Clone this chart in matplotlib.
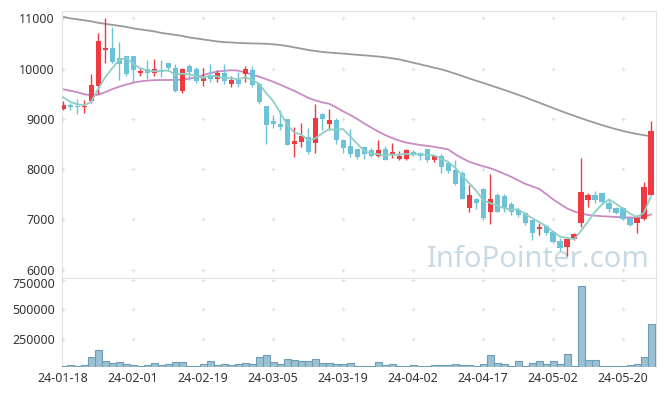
import numpy as np
import pandas as pd
import matplotlib
matplotlib.use("Agg")
import matplotlib.pyplot as plt
import matplotlib.transforms as mtransforms

# daily prices, 24-01-18 .. 24-05-24 (85 trading days)
opens = [9190, 9270, 9255, 9235, 9360, 9660, 10370, 10410, 10217, 10250,
         10250, 9910, 9990, 9910, 9965, 10105, 10005, 9560, 10060, 9990,
         9760, 9870, 9790, 9920, 9700, 9770, 9890, 9970, 9700, 9260,
         8960, 8900, 9000, 8500, 8550, 8635, 8530, 9100, 8895, 8980,
         8580, 8460, 8395, 8435, 8375, 8270, 8395, 8280, 8200, 8200,
         8335, 8316, 8400, 8190, 8263, 8117, 7984, 7919, 7223, 7402,
         7600, 7143, 7487, 7467, 7308, 7190, 7123, 6990, 6806, 6871,
         6745, 6579, 6450, 6612, 6937, 7388, 7487, 7533, 7334, 7223,
         7223, 7024, 6925, 7004, 7495]
highs = [9350, 9320, 9390, 9370, 9890, 10700, 11000, 10820, 10535, 10250,
         10250, 10010, 10180, 10200, 10180, 10110, 10100, 10010, 10090, 10040,
         10010, 10090, 9970, 10085, 9860, 9940, 10050, 10050, 9720, 9260,
         9080, 9180, 9000, 8830, 8910, 8810, 9290, 9120, 9190, 9010,
         8600, 8790, 8400, 8450, 8420, 8580, 8470, 8530, 8360, 8400,
         8380, 8336, 8400, 8263, 8300, 8170, 8180, 7960, 7686, 7420,
         7620, 7899, 7520, 7500, 7354, 7220, 7150, 6990, 6937, 6900,
         6760, 6627, 6612, 6740, 8229, 7521, 7567, 7533, 7388, 7250,
         7240, 7030, 7090, 7752, 8958]
lows = [9180, 9180, 9100, 9120, 9320, 9500, 10120, 10120, 9773, 9850,
        9720, 9850, 9790, 9850, 9840, 9960, 9540, 9520, 9770, 9710,
        9650, 9730, 9740, 9690, 9640, 9640, 9740, 9640, 9290, 8510,
        8810, 8770, 8480, 8250, 8440, 8300, 8320, 8780, 8780, 8500,
        8320, 8250, 8200, 8200, 8250, 8250, 8180, 8220, 8180, 8190,
        8260, 8183, 8150, 8150, 7930, 7920, 7680, 7400, 7155, 7210,
        7000, 6905, 7140, 7155, 7090, 7040, 6900, 6593, 6692, 6700,
        6540, 6374, 6270, 6600, 6857, 7255, 7334, 7300, 7155, 7100,
        6990, 6880, 6738, 6990, 7487]
closes = [9270, 9240, 9240, 9255, 9670, 10550, 10410, 10140, 10086, 9890,
          9970, 9960, 9910, 10000, 9940, 10005, 9560, 9990, 9940, 9760,
          9820, 9790, 9910, 9760, 9770, 9700, 9990, 9675, 9340, 8880,
          8900, 8845, 8480, 8560, 8650, 8350, 9010, 8990, 8980, 8580,
          8430, 8300, 8250, 8300, 8270, 8375, 8185, 8335, 8260, 8380,
          8280, 8269, 8185, 8263, 8050, 7970, 7700, 7402, 7487, 7322,
          7024, 7402, 7155, 7223, 7155, 7090, 6937, 6738, 6846, 6725,
          6559, 6428, 6610, 6715, 7553, 7487, 7388, 7354, 7209, 7123,
          7004, 6891, 7024, 7640, 8760]
volumes = [21000, 30000, 21000, 30000, 95000, 157000, 64000, 47000, 52000, 38000,
           30000, 21000, 30000, 47000, 30000, 38000, 52000, 52000, 21000, 21000,
           38000, 64000, 30000, 38000, 30000, 38000, 47000, 38000, 95000, 114000,
           52000, 38000, 78000, 69000, 61000, 61000, 78000, 47000, 47000, 38000,
           38000, 47000, 21000, 25000, 25000, 52000, 30000, 38000, 21000, 21000,
           30000, 21000, 21000, 30000, 30000, 30000, 38000, 30000, 30000, 21000,
           38000, 114000, 47000, 38000, 25000, 61000, 25000, 47000, 61000, 38000,
           61000, 38000, 123000, 25000, 699000, 69000, 69000, 25000, 25000, 21000,
           21000, 30000, 38000, 95000, 377000]
# closes of the 4 days before the first candle (needed for the 5-day average)
prev_closes = [9680, 9500, 9325, 9375]

ma20 = [9590, 9560, 9530, 9490, 9470, 9480, 9530, 9590, 9640, 9680,
        9720, 9745, 9760, 9770, 9773, 9773, 9775, 9780, 9800, 9830,
        9870, 9910, 9940, 9955, 9968, 9960, 9925, 9880, 9840, 9790,
        9740, 9680, 9620, 9560, 9490, 9420, 9370, 9330, 9300, 9230,
        9150, 9080, 9000, 8910, 8830, 8750, 8680, 8620, 8570, 8530,
        8505, 8481, 8465, 8445, 8420, 8395, 8300, 8220, 8150, 8100,
        8060, 8020, 7970, 7910, 7850, 7780, 7710, 7660, 7610, 7510,
        7400, 7310, 7220, 7160, 7120, 7090, 7075, 7065, 7058, 7050,
        7045, 7040, 7035, 7050, 7100]
ma60 = [11030, 11000, 10980, 10960, 10940, 10910, 10890, 10870, 10850, 10830,
        10800, 10780, 10760, 10740, 10710, 10690, 10670, 10650, 10620, 10600,
        10580, 10560, 10540, 10525, 10520, 10510, 10505, 10500, 10497, 10493,
        10483, 10469, 10449, 10423, 10398, 10370, 10350, 10332, 10318, 10308,
        10298, 10286, 10274, 10264, 10252, 10240, 10225, 10205, 10183, 10151,
        10117, 10086, 10052, 10018, 9986, 9946, 9901, 9853, 9805, 9761,
        9716, 9670, 9624, 9577, 9529, 9479, 9430, 9376, 9324, 9270,
        9217, 9163, 9111, 9062, 9014, 8966, 8921, 8877, 8835, 8795,
        8760, 8728, 8700, 8676, 8656]

tick_pos = [0, 10, 20, 30, 40, 50, 60, 70, 80]
tick_labels = ["24-01-18", "24-02-01", "24-02-19", "24-03-05", "24-03-19",
               "24-04-02", "24-04-17", "24-05-02", "24-05-20"]

plt.rcParams['font.family'] = ['Noto Sans', 'DejaVu Sans']

up_color = "#ee3a40"
down_color = "#6cc3d9"
grid_color = "#e0e0e0"
spine_color = "#e3e3e3"

o = np.array(opens)
c = np.array(closes)
h = np.array(highs)
l = np.array(lows)
x = np.arange(len(c))
up = c >= o
colors = np.where(up, up_color, down_color)
ma5 = pd.Series(prev_closes + closes).rolling(5).mean().to_numpy()[4:]

fig = plt.figure(figsize=(6.65, 3.96), dpi=100)
ax = fig.add_axes([0.0928, 0.298, 0.8932, 0.675])
axv = fig.add_axes([0.0928, 0.074, 0.8932, 0.224], sharex=ax)

# price pane
ax.vlines(x, l, h, colors=colors, linewidth=1, zorder=3)
body_bottom = np.minimum(o, c)
body_height = np.maximum(np.abs(c - o), 15)
ax.bar(x, body_height, bottom=body_bottom, width=0.72, color=colors, zorder=4)
ax.plot(x, ma60, color="#9a9a9a", lw=1.3, zorder=2)
ax.plot(x, ma20, color="#c98ac4", lw=1.3, zorder=2)
ax.plot(x, ma5, color="#8ecfc6", lw=1.3, zorder=5)
# watermark, placed in pixels from the figure's bottom-left corner
ax.text(538, 396 - 267, "InfoPointer.com", transform=None, fontsize=21,
        color="#c8dae5", ha="center", va="baseline", zorder=1)

ax.set_xlim(-0.2, 84.67)
ax.set_ylim(5837, 11151)
price_ticks = [6000, 7000, 8000, 9000, 10000, 11000]
ax.set_yticks(price_ticks)

# volume pane
axv.bar(x, volumes, width=1.0, color="#9bc0d1", edgecolor="#6f9db4",
        linewidth=0.8, zorder=3)
axv.set_ylim(15000, 767000)
vol_ticks = [250000, 500000, 750000]
axv.set_yticks(vol_ticks)
axv.set_yticklabels([str(v) for v in vol_ticks])
axv.set_xticks(tick_pos)
axv.set_xticklabels(tick_labels)

# "+" grid marks at tick crossings
for a, yt in ((ax, price_ticks), (axv, vol_ticks)):
    gx, gy = np.meshgrid(tick_pos, yt)
    a.scatter(gx.ravel(), gy.ravel(), marker="+", s=10, color=grid_color,
              linewidths=0.8, zorder=0, clip_on=False)
    for side in ("left", "right", "top", "bottom"):
        a.spines[side].set_color(spine_color)
    a.tick_params(length=0, labelsize=9, colors="#333333", pad=5)
ax.tick_params(labelbottom=False)
axv.spines["bottom"].set_visible(False)
axv.tick_params(axis="x", pad=4)

# nudge the top volume label down a little so it clears "6000"
top_lbl = axv.get_yticklabels()[-1]
top_lbl.set_transform(top_lbl.get_transform() +
                      mtransforms.ScaledTranslation(0, -2 / 72, fig.dpi_scale_trans))

fig.savefig("out.png", dpi=100, facecolor="white")
